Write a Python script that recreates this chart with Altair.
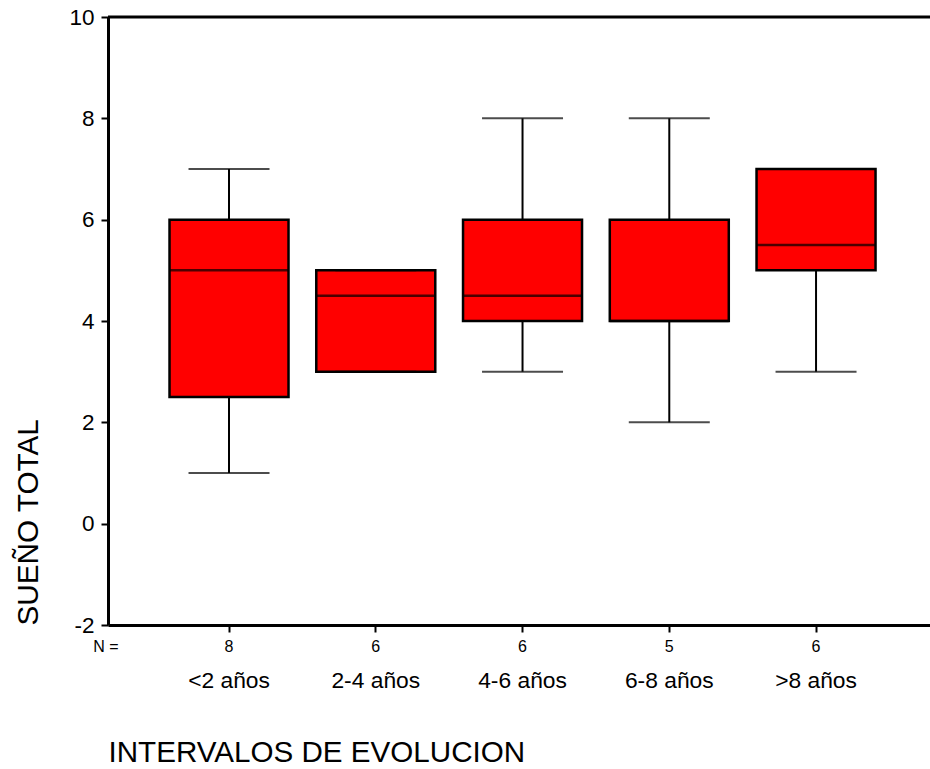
import altair as alt
import pandas as pd

categories = ["<2 años", "2-4 años", "4-6 años", "6-8 años", ">8 años"]
counts = [8, 6, 6, 5, 6]
whisker_low = [1, 3, 3, 2, 3]
q1 = [2.5, 3, 4, 4, 5]
median = [5, 4.5, 4.5, 4, 5.5]
q3 = [6, 5, 6, 6, 7]
whisker_high = [7, 5, 8, 8, 7]
y_ticks = [-2, 0, 2, 4, 6, 8, 10]

df = pd.DataFrame({
    "cat": categories, "n": counts, "lo": whisker_low, "q1": q1,
    "med": median, "q3": q3, "hi": whisker_high,
})

W, H = 822, 608
FONT = "Liberation Sans"

xscale = alt.Scale(domain=categories, paddingInner=0, paddingOuter=0.3006, align=0.54)
yscale = alt.Scale(domain=[-2, 10], nice=False, zero=False)

xaxis = alt.Axis(
    title="INTERVALOS DE EVOLUCION", labelAngle=0, labelFontSize=22.8, labelFont=FONT,
    labelColor="black", labelBaseline="middle", labelPadding=48, tickSize=7,
    tickWidth=2, tickColor="black", domainColor="black", domainWidth=3,
    titleFont=FONT, titleFontSize=29.6, titleFontWeight="normal", titleColor="black",
    titleX=0, titleY=127, titleAlign="left", titleBaseline="middle", grid=False,
)
yaxis = alt.Axis(
    title="SUEÑO TOTAL", values=y_ticks, labelExpr="datum.value + ''",
    labelFontSize=22.5, labelFont=FONT,
    labelColor="black", labelPadding=7, tickSize=7, tickWidth=2, tickColor="black",
    domainColor="black", domainWidth=3, titleFont=FONT, titleFontSize=29.7,
    titleFontWeight="normal", titleColor="black", titleAngle=270, titleX=-80,
    titleY=H, titleAlign="left", titleBaseline="middle", grid=False,
)

base = alt.Chart(df)
x = alt.X("cat:N", scale=xscale, axis=xaxis, sort=categories)

whisk_lo = base.mark_rule(color="black", strokeWidth=2).encode(
    x=x, y=alt.Y("lo:Q", scale=yscale, axis=yaxis), y2="q1:Q")
whisk_hi = base.mark_rule(color="black", strokeWidth=2).encode(
    x=x, y=alt.Y("q3:Q", scale=yscale), y2="hi:Q")
cap_lo = base.mark_tick(color="black", size=81, thickness=2, orient="horizontal").encode(
    x=x, y=alt.Y("lo:Q", scale=yscale))
cap_hi = base.mark_tick(color="black", size=81, thickness=2, orient="horizontal").encode(
    x=x, y=alt.Y("hi:Q", scale=yscale))
box = base.mark_bar(size=119, color="#ff0000", stroke="black", strokeWidth=2.5).encode(
    x=x, y=alt.Y("q1:Q", scale=yscale), y2="q3:Q")
med = base.mark_tick(color="black", size=119, thickness=2.5, orient="horizontal").encode(
    x=x, y=alt.Y("med:Q", scale=yscale))
ntext = base.mark_text(fontSize=16, font=FONT, color="black", baseline="middle").encode(
    x=x, y=alt.value(H + 22), text="n:Q")
nlabel = alt.Chart(pd.DataFrame({"lab": ["N ="]})).mark_text(
    fontSize=16, font=FONT, color="black", baseline="middle").encode(
    x=alt.value(-2), y=alt.value(H + 22), text="lab:N")
top = alt.Chart(pd.DataFrame({"t": [10]})).mark_rule(color="black", strokeWidth=3).encode(
    y=alt.Y("t:Q", scale=yscale), x=alt.value(0), x2=alt.value(W))

chart = alt.layer(whisk_lo, whisk_hi, box, med, cap_lo, cap_hi, ntext, nlabel, top).properties(
    width=W, height=H,
    autosize=alt.AutoSizeParams(type="none"),
    padding={"left": 108, "top": 17, "right": 0, "bottom": 144},
    background="white",
).configure_view(stroke=None)

chart.save("out.html", embed_options={"renderer": "svg", "actions": False})
